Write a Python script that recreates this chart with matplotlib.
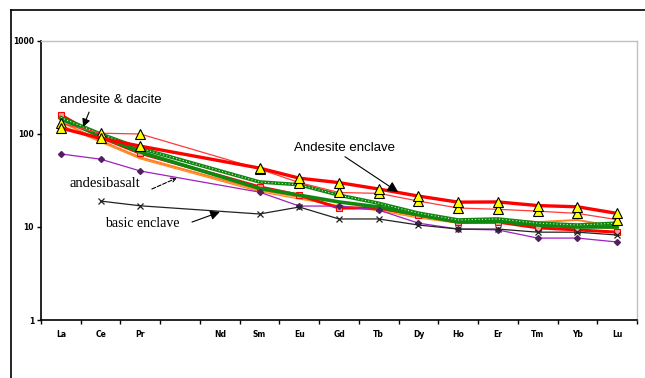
import numpy as np
import matplotlib
matplotlib.use("Agg")
import matplotlib.pyplot as plt
from matplotlib.lines import Line2D

# Rare-earth elements (Pm slot left empty, Nd not analysed)
elements = ["La", "Ce", "Pr", "", "Nd", "Sm", "Eu", "Gd", "Tb", "Dy", "Ho", "Er", "Tm", "Yb", "Lu"]
data_elements = ["La", "Ce", "Pr", "Sm", "Eu", "Gd", "Tb", "Dy", "Ho", "Er", "Tm", "Yb", "Lu"]

# Chondrite-normalised REE patterns
andesite_enclave_1 = [116, 90, 74, 43, 33.5, 30, 25.6, 21.5, 18.5, 18.6, 17, 16.5, 14]
andesite_enclave_2 = [130, 102, 100, 42, 30, 23.5, 23, 19, 16, 15.5, 14.8, 14, 12]
andesite_dacite_g1 = [150, 100, 70, 30.5, 28.5, 22, 18, 14.1, 11.9, 12.2, 11, 10.5, 11]
andesite_dacite_g2 = [145, 95, 64, 26, 22, 18.6, 16.4, 13.5, 11.3, 11.5, 10.5, 10, 10]
andesite_dacite_r1 = [160, 92, 62, 27, 22, 16, 16, 13.5, 11.3, 11.3, 9.8, 9.3, 8.8]
andesite_dacite_o1 = [135, 85, 56, 25, 21, 16.4, 15.6, 13, 11.5, 12, 11.3, 11.9, 10]
andesite_dacite_o2 = [125, 82, 54, 24, 20, 17, 15, 12.5, 11, 11, 10.5, 10.5, 9.5]
andesibasalt = [61, 53.6, 40, 23.7, 16.8, 16.8, 15.2, 11, 9.5, 9.3, 7.6, 7.6, 6.9]
basic_enclave = [np.nan, 19, 16.9, 13.8, 16.4, 12.2, 12.2, 10.5, 9.5, 9.5, 8.8, 8.8, 8.2]

y_ticks = [1, 10, 100, 1000]

x = np.array([elements.index(e) for e in data_elements], dtype=float)

fig = plt.figure(figsize=(6.45, 3.78), dpi=100)
ax = fig.add_axes([41 / 645, 58 / 378, 596 / 645, 279 / 378])

def draw(vals, **kw):
    v = np.array(vals, dtype=float)
    m = ~np.isnan(v)
    return ax.plot(x[m], v[m], **kw)

# andesite & dacite group
draw(andesite_dacite_o2, color="#ff8c1a", lw=0.9, zorder=2)
draw(andesite_dacite_o1, color="#ff7f27", lw=1.4, zorder=2)
draw(andesite_dacite_r1, color="#ff0000", lw=2.2, marker="s", ms=4,
     mfc="#ff9999", mec="#ff0000", mew=0.8, zorder=3)
draw(andesite_dacite_g2, color="#108810", lw=2.6, zorder=3)
draw(andesite_dacite_g1, color="#108810", lw=2.6, zorder=3)
draw(andesite_dacite_g1, color="white", lw=0.7, ls=(0, (1, 2.5)), zorder=3.1)

# andesibasalt and basic enclave
draw(andesibasalt, color="#a020c0", lw=0.9, marker="D", ms=3,
     mfc="#502060", mec="#502060", zorder=4)
draw(basic_enclave, color="#222222", lw=0.9, marker="x", ms=5,
     mec="#222222", mew=0.9, zorder=4)

# andesite enclave
draw(andesite_enclave_2, color="#ff3a3a", lw=0.9, marker="^", ms=7,
     mfc="#ffff00", mec="black", mew=0.8, zorder=5)
draw(andesite_enclave_1, color="#ff0000", lw=2.4, marker="^", ms=7,
     mfc="#ffff00", mec="black", mew=0.8, zorder=5)

ax.set_yscale("log")
ax.set_ylim(1, 1000)
ax.set_xlim(-0.5, len(elements) - 0.5)

ax.set_yticks(y_ticks)
ax.set_yticklabels([str(t) for t in y_ticks])
ax.yaxis.set_minor_locator(matplotlib.ticker.NullLocator())
ax.tick_params(axis="y", direction="out", length=3, width=1, labelsize=5.5, pad=2)
for lab in ax.get_yticklabels():
    lab.set_fontweight("bold")

# category labels centred, tick marks on category boundaries
ax.set_xticks(np.arange(len(elements)))
ax.set_xticklabels(elements)
ax.tick_params(axis="x", which="major", length=0, labelsize=5.5, pad=7)
for lab in ax.get_xticklabels():
    lab.set_fontweight("bold")
ax.set_xticks(np.arange(len(elements) + 1) - 0.5, minor=True)
ax.tick_params(axis="x", which="minor", direction="out", length=3, width=1)

for side in ("top", "right"):
    ax.spines[side].set_color("#c0c0c0")
    ax.spines[side].set_linewidth(1)
for side in ("left", "bottom"):
    ax.spines[side].set_color("black")
    ax.spines[side].set_linewidth(1.2)

# annotations: labels and their pointer arrows
sans = ["Liberation Sans", "DejaVu Sans"]
serif = ["Liberation Serif", "DejaVu Serif"]

def label(txt, xy, fam, size):
    ax.text(xy[0], xy[1], txt, fontsize=size, family=fam, ha="center", va="center",
            zorder=6)

def arrow(start, end, style="-|>", ls="-", color="black", scale=10):
    ax.annotate("", xy=end, xytext=start, zorder=7,
                arrowprops=dict(arrowstyle=style, color=color, lw=0.8, ls=ls,
                                mutation_scale=scale, shrinkA=0, shrinkB=0))

label("andesite & dacite", (1.26, 231), sans, 9.5)
arrow((0.71, 172), (0.56, 119), scale=12)

label("Andesite enclave", (7.15, 70), sans, 9.5)
arrow((7.15, 57), (8.49, 23.7), color="black", scale=16)

label("andesibasalt", (1.11, 29.7), serif, 10.5)
arrow((2.29, 25.6), (2.92, 33.7), style="->", ls="--", scale=9)

label("basic enclave", (2.04, 11.0), serif, 10)
arrow((3.3, 11.3), (4.0, 14.5), scale=14)

# outer chart frame
fig.add_artist(Line2D([11 / 645, 1.0], [1 - 10 / 378, 1 - 10 / 378],
                      transform=fig.transFigure, color="black", lw=1.2))
fig.add_artist(Line2D([11 / 645, 11 / 645], [0.0, 1 - 10 / 378],
                      transform=fig.transFigure, color="black", lw=1.2))

fig.savefig("out.png", dpi=100)
